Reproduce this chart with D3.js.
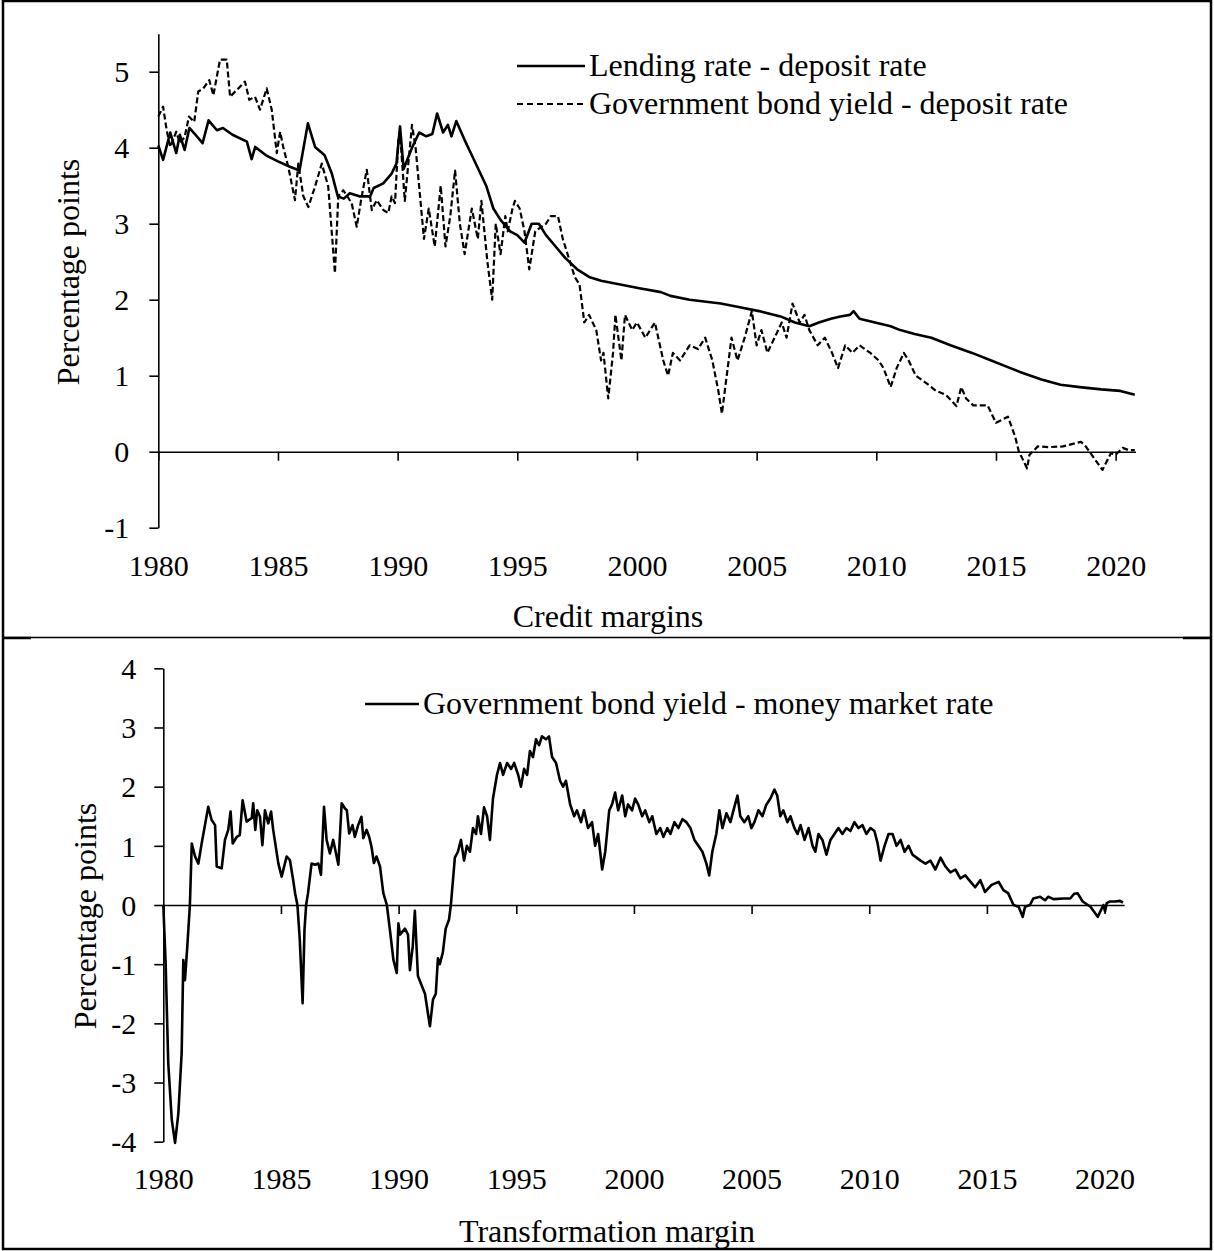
<!DOCTYPE html>
<html>
<head>
<meta charset="utf-8">
<script src="https://cdn.jsdelivr.net/npm/d3@7"></script>
<style>
  html, body { margin: 0; padding: 0; background: #fff; }
  svg { display: block; }
  text { font-family: "Liberation Serif", "Times New Roman", serif; fill: #000; }
</style>
</head>
<body>
<svg id="chart" width="1214" height="1251"></svg>
<script>
// ---------------- DATA ----------------
const yearTicks = [1980, 1985, 1990, 1995, 2000, 2005, 2010, 2015, 2020];
const topYTicks = [-1, 0, 1, 2, 3, 4, 5];
const bottomYTicks = [-4, -3, -2, -1, 0, 1, 2, 3, 4];

const topTitle = "Credit margins";
const bottomTitle = "Transformation margin";
const yTitle = "Percentage points";
const seriesNames = ["Lending rate - deposit rate", "Government bond yield - deposit rate", "Government bond yield - money market rate"];

// Lending rate - deposit rate  [year, percentage points]
const lendingDeposit = [
  [1980.0,4.03],[1980.2,3.84],[1980.5,4.20],[1980.75,3.93],[1980.9,4.17],[1981.1,3.97],[1981.3,4.26],
  [1981.5,4.19],[1981.85,4.06],[1982.1,4.36],[1982.45,4.23],[1982.7,4.26],[1983.1,4.17],[1983.7,4.08],
  [1983.9,3.85],[1984.05,4.01],[1984.5,3.90],[1985.0,3.82],[1985.5,3.75],[1985.9,3.70],[1986.25,4.32],
  [1986.55,4.01],[1986.95,3.90],[1987.25,3.66],[1987.5,3.36],[1987.75,3.33],[1988.0,3.40],[1988.4,3.36],
  [1988.85,3.36],[1989.0,3.47],[1989.4,3.53],[1989.75,3.66],[1989.95,3.79],[1990.1,4.28],[1990.25,3.72],
  [1990.6,4.0],[1990.9,4.2],[1991.2,4.15],[1991.45,4.18],[1991.65,4.45],[1991.9,4.2],[1992.1,4.3],
  [1992.25,4.15],[1992.45,4.35],[1992.8,4.1],[1993.1,3.9],[1993.4,3.7],[1993.7,3.5],[1994.0,3.2],
  [1994.3,3.05],[1994.7,2.9],[1995.0,2.85],[1995.3,2.75],[1995.6,3.0],[1995.9,3.0],[1996.2,2.85],
  [1996.6,2.7],[1997.0,2.55],[1997.5,2.4],[1998.0,2.3],[1998.5,2.25],[1999.3,2.2],[2000.1,2.15],
  [2001.0,2.1],[2001.4,2.05],[2002.2,2.0],[2003.5,1.95],[2004.3,1.9],[2005.1,1.85],[2006.0,1.78],
  [2006.6,1.7],[2007.2,1.65],[2007.6,1.7],[2008.1,1.75],[2008.5,1.78],[2008.9,1.8],[2009.05,1.85],
  [2009.3,1.75],[2009.95,1.7],[2010.6,1.65],[2011.0,1.6],[2011.6,1.55],[2012.3,1.5],[2013.1,1.4],
  [2014.0,1.3],[2014.8,1.2],[2015.6,1.1],[2016.0,1.05],[2016.9,0.95],[2017.7,0.88],[2018.5,0.85],
  [2019.4,0.82],[2020.2,0.80],[2020.8,0.75]
];

// Government bond yield - deposit rate
const bondDeposit = [
  [1980.0,4.41],[1980.2,4.54],[1980.35,4.23],[1980.5,4.01],[1980.75,4.21],[1980.9,4.06],[1981.1,4.14],
  [1981.28,4.41],[1981.5,4.34],[1981.67,4.74],[1981.88,4.78],[1982.13,4.89],[1982.3,4.69],[1982.58,5.16],
  [1982.86,5.16],[1983.0,4.67],[1983.28,4.76],[1983.62,4.87],[1983.8,4.63],[1984.04,4.67],[1984.25,4.50],
  [1984.53,4.78],[1984.74,4.50],[1984.95,3.93],[1985.09,4.21],[1985.22,4.01],[1985.43,3.75],[1985.71,3.31],
  [1985.85,3.79],[1986.06,3.36],[1986.27,3.22],[1986.55,3.49],[1986.83,3.79],[1987.1,3.49],[1987.38,2.35],
  [1987.52,3.36],[1987.73,3.44],[1988.08,3.27],[1988.29,2.96],[1988.5,3.36],[1988.71,3.71],[1988.92,3.18],
  [1989.13,3.31],[1989.4,3.18],[1989.61,3.14],[1989.75,3.36],[1989.89,3.27],[1990.03,4.10],[1990.1,4.2],
  [1990.3,3.3],[1990.6,4.3],[1990.75,4.0],[1991.1,2.8],[1991.3,3.2],[1991.55,2.7],[1991.8,3.5],
  [1992.0,2.7],[1992.2,3.1],[1992.4,3.7],[1992.6,3.0],[1992.8,2.6],[1993.1,3.2],[1993.35,2.8],
  [1993.5,3.3],[1993.75,2.5],[1993.95,2.0],[1994.1,3.0],[1994.3,2.6],[1994.5,3.1],[1994.6,2.9],
  [1994.8,3.2],[1994.9,3.3],[1995.1,3.2],[1995.3,2.9],[1995.5,2.4],[1995.75,2.9],[1996.2,3.0],
  [1996.4,3.1],[1996.7,3.1],[1996.9,2.8],[1997.1,2.6],[1997.4,2.3],[1997.6,2.2],[1997.8,1.7],
  [1998.0,1.8],[1998.3,1.6],[1998.5,1.2],[1998.6,1.3],[1998.8,0.7],[1999.0,1.3],[1999.1,1.8],
  [1999.35,1.2],[1999.5,1.8],[1999.8,1.6],[2000.0,1.7],[2000.35,1.5],[2000.75,1.7],[2001.1,1.2],
  [2001.3,1.0],[2001.5,1.3],[2001.8,1.2],[2002.2,1.4],[2002.55,1.35],[2002.85,1.5],[2003.15,1.2],
  [2003.4,0.8],[2003.55,0.5],[2003.75,1.0],[2003.95,1.5],[2004.2,1.2],[2004.5,1.5],[2004.8,1.85],
  [2005.0,1.4],[2005.2,1.6],[2005.45,1.3],[2005.75,1.5],[2006.05,1.7],[2006.25,1.5],[2006.5,1.95],
  [2006.8,1.7],[2007.0,1.8],[2007.2,1.6],[2007.55,1.4],[2007.85,1.5],[2008.15,1.3],[2008.4,1.1],
  [2008.7,1.4],[2009.0,1.3],[2009.3,1.4],[2009.75,1.3],[2010.1,1.2],[2010.3,1.1],[2010.6,0.85],
  [2010.85,1.1],[2011.15,1.3],[2011.35,1.2],[2011.65,1.0],[2012.1,0.9],[2012.5,0.8],[2012.9,0.75],
  [2013.35,0.6],[2013.55,0.85],[2013.75,0.7],[2014.05,0.61],[2014.65,0.61],[2015.0,0.38],[2015.25,0.42],
  [2015.5,0.46],[2015.8,0.2],[2015.95,0.01],[2016.3,-0.22],[2016.4,-0.04],[2016.75,0.07],[2017.2,0.06],
  [2017.8,0.07],[2018.55,0.13],[2018.75,0.07],[2019.45,-0.24],[2019.8,-0.02],[2020.0,-0.04],[2020.3,0.05],
  [2020.55,0.02],[2020.8,0.02]
];

// Government bond yield - money market rate
const bondMoneyMarket = [
  [1980.0,0.0],[1980.1,-0.99],[1980.21,-2.67],[1980.36,-3.63],[1980.5,-4.02],[1980.64,-3.52],[1980.78,-2.5],
  [1980.85,-0.93],[1980.92,-1.27],[1981.02,-0.7],[1981.13,0.0],[1981.21,1.04],[1981.35,0.82],[1981.49,0.70],
  [1981.63,1.04],[1981.91,1.66],[1982.05,1.44],[1982.2,1.35],[1982.27,0.65],[1982.48,0.62],[1982.62,1.1],
  [1982.76,1.27],[1982.86,1.58],[1982.95,1.04],[1983.12,1.15],[1983.25,1.18],[1983.37,1.77],[1983.54,1.41],
  [1983.76,1.47],[1983.82,1.72],[1983.91,1.27],[1983.99,1.6],[1984.11,1.49],[1984.21,1.01],[1984.32,1.6],
  [1984.46,1.38],[1984.58,1.58],[1984.67,1.27],[1984.89,0.7],[1985.03,0.48],[1985.24,0.82],[1985.38,0.76],
  [1985.52,0.42],[1985.6,0.2],[1985.7,0.0],[1985.8,-0.59],[1985.92,-1.66],[1986.0,-0.42],[1986.07,0.0],
  [1986.15,0.2],[1986.3,0.7],[1986.45,0.68],[1986.59,0.7],[1986.7,0.51],[1986.83,1.66],[1986.94,1.1],
  [1987.08,0.87],[1987.22,1.1],[1987.44,0.68],[1987.58,1.72],[1987.72,1.63],[1987.8,1.6],[1987.9,1.21],
  [1988.04,1.35],[1988.14,1.15],[1988.28,1.35],[1988.42,1.49],[1988.5,1.13],[1988.64,1.27],[1988.75,1.15],
  [1988.85,0.98],[1988.95,0.71],[1989.06,0.82],[1989.21,0.65],[1989.35,0.2],[1989.5,0.0],[1989.63,-0.42],
  [1989.78,-0.93],[1989.92,-1.15],[1989.99,-0.31],[1990.06,-0.5],[1990.27,-0.4],[1990.4,-0.5],[1990.48,-1.1],
  [1990.6,-0.7],[1990.69,-0.1],[1990.82,-1.2],[1991.12,-1.5],[1991.33,-2.05],[1991.46,-1.6],[1991.58,-1.5],
  [1991.67,-0.9],[1991.75,-1.0],[1991.88,-0.8],[1992.0,-0.4],[1992.14,-0.25],[1992.22,0.0],[1992.39,0.8],
  [1992.52,0.9],[1992.65,1.1],[1992.78,0.75],[1992.9,1.0],[1993.03,0.9],[1993.16,1.3],[1993.29,1.2],
  [1993.37,1.5],[1993.5,1.2],[1993.63,1.65],[1993.76,1.5],[1993.88,1.1],[1994.01,1.8],[1994.18,2.2],
  [1994.31,2.4],[1994.44,2.2],[1994.61,2.4],[1994.78,2.3],[1994.91,2.4],[1995.08,2.2],[1995.2,2.0],
  [1995.33,2.3],[1995.46,2.2],[1995.58,2.6],[1995.71,2.5],[1995.84,2.8],[1995.97,2.7],[1996.09,2.85],
  [1996.26,2.8],[1996.39,2.85],[1996.52,2.5],[1996.69,2.4],[1996.86,2.1],[1996.99,2.0],[1997.11,2.1],
  [1997.29,1.7],[1997.46,1.5],[1997.58,1.6],[1997.75,1.4],[1997.88,1.6],[1998.05,1.3],[1998.22,1.4],
  [1998.35,1.0],[1998.48,1.2],[1998.65,0.6],[1998.78,0.9],[1998.95,1.6],[1999.07,1.7],[1999.2,1.9],
  [1999.33,1.6],[1999.5,1.85],[1999.63,1.5],[1999.75,1.7],[1999.92,1.6],[2000.05,1.8],[2000.18,1.7],
  [2000.35,1.5],[2000.48,1.6],[2000.65,1.4],[2000.78,1.5],[2000.95,1.2],[2001.12,1.3],[2001.25,1.15],
  [2001.42,1.3],[2001.55,1.2],[2001.72,1.4],[2001.89,1.3],[2002.06,1.45],[2002.23,1.4],[2002.4,1.3],
  [2002.57,1.1],[2002.74,1.0],[2002.91,0.9],[2003.08,0.7],[2003.2,0.5],[2003.33,0.9],[2003.5,1.2],
  [2003.63,1.6],[2003.76,1.3],[2003.93,1.55],[2004.1,1.4],[2004.23,1.6],[2004.4,1.85],[2004.52,1.5],
  [2004.69,1.4],[2004.86,1.5],[2004.99,1.3],[2005.12,1.4],[2005.29,1.6],[2005.46,1.5],[2005.63,1.7],
  [2005.8,1.8],[2005.97,1.95],[2006.09,1.85],[2006.22,1.5],[2006.35,1.6],[2006.52,1.4],[2006.65,1.5],
  [2006.82,1.3],[2006.95,1.2],[2007.08,1.35],[2007.25,1.1],[2007.42,1.3],[2007.59,1.0],[2007.71,0.9],
  [2007.84,1.2],[2008.01,1.1],[2008.18,0.85],[2008.35,1.1],[2008.52,1.2],[2008.69,1.3],[2008.86,1.2],
  [2009.03,1.3],[2009.2,1.25],[2009.37,1.4],[2009.54,1.3],[2009.71,1.35],[2009.88,1.2],[2010.05,1.3],
  [2010.22,1.25],[2010.35,1.05],[2010.48,0.75],[2010.65,1.0],[2010.82,1.2],[2010.99,1.2],[2011.16,1.0],
  [2011.33,1.1],[2011.5,0.9],[2011.67,1.0],[2011.84,0.85],[2012.01,0.8],[2012.18,0.75],[2012.39,0.7],
  [2012.6,0.75],[2012.81,0.6],[2013.03,0.8],[2013.24,0.65],[2013.45,0.55],[2013.66,0.6],[2013.87,0.45],
  [2014.08,0.5],[2014.29,0.4],[2014.5,0.3],[2014.72,0.42],[2014.92,0.22],[2015.2,0.34],[2015.5,0.39],
  [2015.7,0.25],[2015.9,0.2],[2016.13,0.0],[2016.35,-0.03],[2016.52,-0.2],[2016.62,-0.03],[2016.83,0.0],
  [2016.97,0.11],[2017.26,0.14],[2017.47,0.08],[2017.61,0.14],[2017.83,0.1],[2018.26,0.11],[2018.54,0.11],
  [2018.71,0.19],[2018.85,0.2],[2019.07,0.06],[2019.4,-0.03],[2019.71,-0.2],[2019.95,0.0],[2020.02,-0.11],
  [2020.09,0.03],[2020.23,0.06],[2020.45,0.06],[2020.66,0.07],[2020.78,0.04]
];

// ---------------- DRAW ----------------
const svg = d3.select("#chart");
const plainNum = d => String(d); // hyphen-minus like the original

// frame
svg.append("rect").attr("x", 3).attr("y", 1).attr("width", 1208).attr("height", 1248)
  .attr("fill", "none").attr("stroke", "#000").attr("stroke-width", 2.5);
svg.append("line").attr("x1", 3).attr("x2", 1211).attr("y1", 637.5).attr("y2", 637.5)
  .attr("stroke", "#000").attr("stroke-width", 1.5);
svg.append("line").attr("x1", 3).attr("x2", 31).attr("y1", 638).attr("y2", 638)
  .attr("stroke", "#000").attr("stroke-width", 2.5);
svg.append("line").attr("x1", 1183).attr("x2", 1211).attr("y1", 638).attr("y2", 638)
  .attr("stroke", "#000").attr("stroke-width", 2.5);

function panel(cfg) {
  const x = d3.scaleLinear().domain([1980, 2020.83]).range(cfg.xRange);
  const y = d3.scaleLinear().domain(cfg.yDomain).range(cfg.yRange);
  const g = svg.append("g");

  // y axis
  const yAx = g.append("g").attr("transform", `translate(${cfg.xRange[0]},0)`)
    .call(d3.axisLeft(y).tickValues(cfg.yTicks).tickSize(9).tickSizeOuter(0).tickPadding(cfg.yPad)
      .tickFormat(plainNum));
  yAx.select(".domain").attr("stroke-width", 1.6);
  yAx.selectAll(".tick line").attr("stroke-width", 1.6);
  yAx.selectAll("text").style("font-size", "30px").attr("dy", "0.34em");

  // x axis line at zero with ticks
  const xAx = g.append("g").attr("transform", `translate(0,${y(0)})`)
    .call(d3.axisBottom(x).tickValues(yearTicks).tickSize(9).tickSizeOuter(0).tickFormat(""));
  xAx.select(".domain").attr("stroke-width", 1.6);
  xAx.selectAll(".tick line").attr("stroke-width", 1.6);

  // x labels at the bottom
  const xLab = g.append("g").attr("transform", `translate(0,${cfg.yRange[0]})`)
    .call(d3.axisBottom(x).tickValues(yearTicks).tickSize(0).tickPadding(cfg.xPad).tickFormat(plainNum));
  xLab.select(".domain").remove();
  xLab.selectAll("text").style("font-size", "30px");

  // series
  const line = d3.line().x(d => x(d[0])).y(d => y(d[1]));
  cfg.series.forEach(s => {
    g.append("path").datum(s.data).attr("d", line).attr("fill", "none")
      .attr("stroke", "#000").attr("stroke-width", s.dash ? 2.2 : 2.6)
      .attr("stroke-linejoin", "round")
      .attr("stroke-dasharray", s.dash ? "6,3" : null);
  });

  // legend
  cfg.series.forEach((s, i) => {
    const ly = cfg.legend.y + i * cfg.legend.dy;
    g.append("line").attr("x1", cfg.legend.x1).attr("x2", cfg.legend.x2)
      .attr("y1", ly).attr("y2", ly).attr("stroke", "#000")
      .attr("stroke-width", s.dash ? 2.2 : 2.6).attr("stroke-dasharray", s.dash ? "6,4" : null);
    g.append("text").attr("x", cfg.legend.x2 + 4).attr("y", ly + 10)
      .style("font-size", "32px").text(s.name);
  });

  // titles
  g.append("text").attr("x", cfg.titleX).attr("y", cfg.titleY).attr("text-anchor", "middle")
    .style("font-size", "32px").text(cfg.title);
  g.append("text").attr("transform", `translate(${cfg.yTitleX},${cfg.yTitleY}) rotate(-90)`)
    .attr("text-anchor", "middle").style("font-size", "32px").text(yTitle);
}

panel({
  xRange: [158.3, 1135.5], yDomain: [-1, 5.5], yRange: [527.7, 33.7], yTicks: topYTicks,
  yPad: 20, xPad: 27,
  series: [
    { name: seriesNames[0], data: lendingDeposit, dash: false },
    { name: seriesNames[1], data: bondDeposit, dash: true }
  ],
  legend: { x1: 517, x2: 585, y: 66, dy: 38 },
  title: topTitle, titleX: 608, titleY: 627, yTitleX: 79, yTitleY: 272
});

panel({
  xRange: [163.3, 1124.1], yDomain: [-4, 4], yRange: [1141.7, 668.3], yTicks: bottomYTicks,
  yPad: 18, xPad: 26,
  series: [
    { name: seriesNames[2], data: bondMoneyMarket, dash: false }
  ],
  legend: { x1: 365, x2: 419, y: 704, dy: 0 },
  title: bottomTitle, titleX: 607, titleY: 1242, yTitleX: 96, yTitleY: 916
});
</script>
</body>
</html>
